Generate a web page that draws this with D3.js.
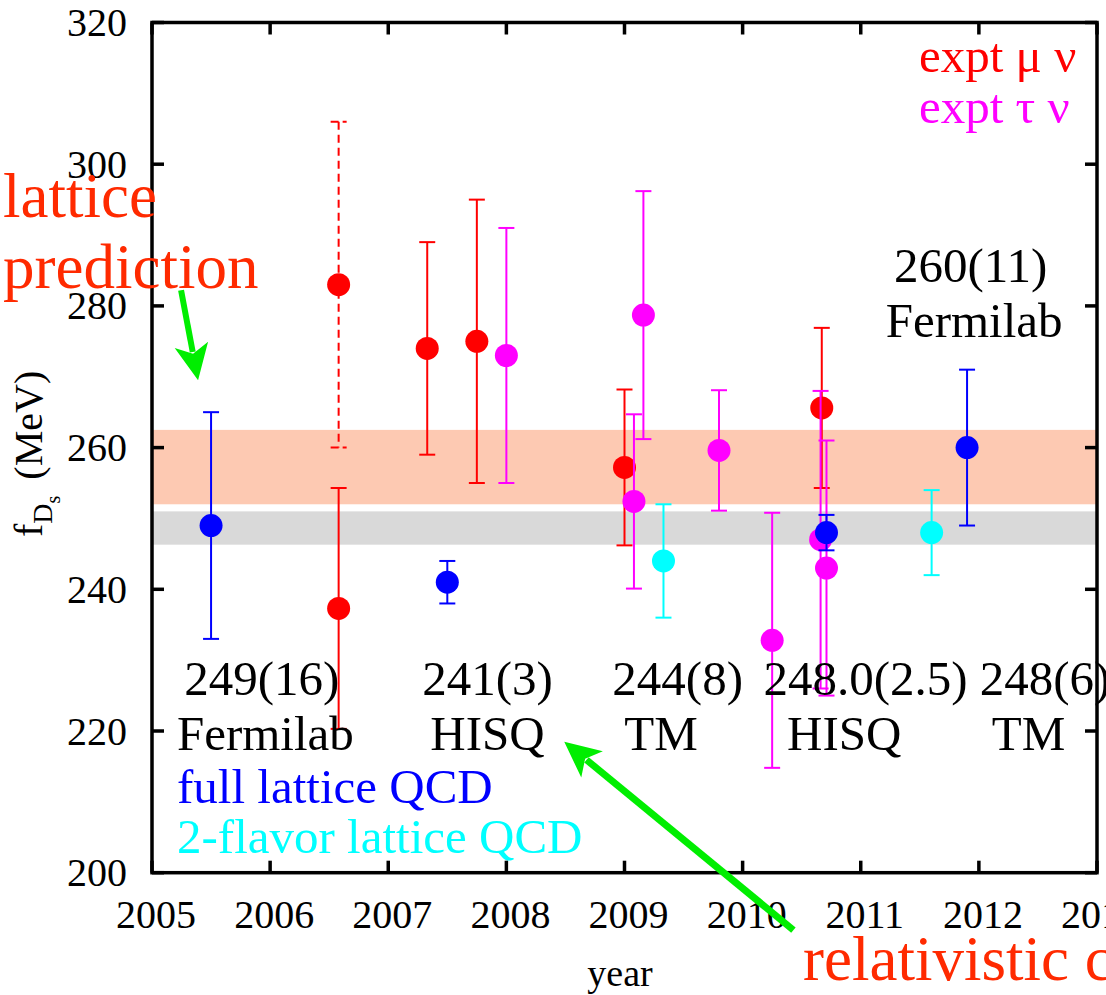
<!DOCTYPE html>
<html>
<head>
<meta charset="utf-8">
<script src="https://cdn.jsdelivr.net/npm/d3@7"></script>
<style>
  body { margin: 0; background: #fff; }
  svg { display: block; }
  svg text { font-family: "Liberation Serif", "Times New Roman", "DejaVu Serif", serif; }
</style>
</head>
<body>
<div id="canvas"></div>
<script>
"use strict"

/* Canvas size */
let svgWidth = 1106;
let svgHeight = 995;

/* Plot frame */
let leftMargin = 152
let rightEdge = 1097
let topMargin = 22.5
let bottomEdge = 872.7

/* Axis ticks */
let yearTicks = [2005, 2006, 2007, 2008, 2009, 2010, 2011, 2012, 2013];
let valueTicks = [200, 220, 240, 260, 280, 300, 320];

/* Bands: lattice prediction (orange) and current lattice average (gray) */
let predictionBand = [252.0, 262.5];
let latticeBand = [246.3, 251.0];

/* Full lattice QCD (blue) */
let fullYear = [2005.5, 2007.5, 2010.71, 2011.9];
let fullValue = [249, 241, 248, 260];
let fullError = [16, 3, 2.5, 11];

/* 2-flavor lattice QCD (cyan) */
let twoFlavorYear = [2009.33, 2011.6];
let twoFlavorValue = [244, 248];
let twoFlavorError = [8, 6];

/* Experiment, mu nu (red) */
let muYear = [2006.58, 2007.33, 2007.75, 2009.0, 2010.67];
let muValue = [237.3, 274, 275, 257.2, 265.6];
let muError = [17, 15, 20, 11, 11.3];

/* Older mu nu result, dashed error bar */
let muOldYear = [2006.58];
let muOldValue = [283];
let muOldError = [23];

/* Experiment, tau nu (magenta) */
let tauYear = [2008.0, 2009.08, 2009.16, 2009.8, 2010.25, 2010.66, 2010.71];
let tauValue = [273, 252.4, 278.7, 259.6, 232.8, 247, 243];
let tauError = [18, 12.3, 17.5, 8.5, 18, 21, 18];

/* Lattice result labels */
let resultValues = ["249(16)", "241(3)", "244(8)", "248.0(2.5)", "248(6)", "260(11)"];
let resultMethods = ["Fermilab", "HISQ", "TM", "HISQ", "TM", "Fermilab"];

let svg = d3.select("#canvas")
    .append("svg")
    .attr("width", svgWidth)
    .attr("height", svgHeight);

let xScale = d3.scaleLinear()
    .domain([2005, 2013])
    .range([leftMargin, rightEdge]);

let yScale = d3.scaleLinear()
    .domain([200, 320])
    .range([bottomEdge, topMargin]);

/* Bands */
svg.append("rect")
    .attr("x", xScale(2005))
    .attr("width", xScale(2013) - xScale(2005))
    .attr("y", yScale(predictionBand[1]))
    .attr("height", yScale(predictionBand[0]) - yScale(predictionBand[1]))
    .attr("fill", "#fdc9b2");

svg.append("rect")
    .attr("x", xScale(2005))
    .attr("width", xScale(2013) - xScale(2005))
    .attr("y", yScale(latticeBand[1]))
    .attr("height", yScale(latticeBand[0]) - yScale(latticeBand[1]))
    .attr("fill", "#d9d9d9");

/* Points with error bars */
function drawSeries(years, values, errors, colour, dashed) {
    let data = years.map(function (y, i) {
        return { year: y, value: values[i], error: errors[i] };
    });
    let g = svg.append("g")
        .attr("stroke", colour)
        .attr("fill", colour)
        .attr("stroke-width", 2);
    let dash = dashed ? "8,5" : null;
    let cap = 8;

    g.selectAll(".bar").data(data).join("line")
        .attr("x1", d => xScale(d.year))
        .attr("x2", d => xScale(d.year))
        .attr("y1", d => yScale(d.value + d.error))
        .attr("y2", d => yScale(d.value - d.error))
        .attr("stroke-dasharray", dash);

    g.selectAll(".top").data(data).join("line")
        .attr("x1", d => xScale(d.year) - cap)
        .attr("x2", d => xScale(d.year) + cap)
        .attr("y1", d => yScale(d.value + d.error))
        .attr("y2", d => yScale(d.value + d.error))
        .attr("stroke-dasharray", dashed ? "8,4" : null);

    g.selectAll(".bottom").data(data).join("line")
        .attr("x1", d => xScale(d.year) - cap)
        .attr("x2", d => xScale(d.year) + cap)
        .attr("y1", d => yScale(d.value - d.error))
        .attr("y2", d => yScale(d.value - d.error))
        .attr("stroke-dasharray", dashed ? "8,4" : null);

    g.selectAll("circle").data(data).join("circle")
        .attr("cx", d => xScale(d.year))
        .attr("cy", d => yScale(d.value))
        .attr("r", 11.5)
        .attr("stroke", "none");
}

drawSeries(muOldYear, muOldValue, muOldError, "#ff0000", true);
drawSeries(muYear, muValue, muError, "#ff0000", false);
drawSeries(tauYear, tauValue, tauError, "#ff00ff", false);
drawSeries(fullYear, fullValue, fullError, "#0000ff", false);
drawSeries(twoFlavorYear, twoFlavorValue, twoFlavorError, "#00ffff", false);

/* Lattice result labels (value on top line, method below) */
let valueLabelYear = [2005.93, 2007.84, 2009.45, 2011.04, 2012.56, 2011.93];
let valueLabelY = [695, 695, 695, 695, 695, 282];
let methodLabelYear = [2005.96, 2007.84, 2009.31, 2010.86, 2012.42, 2011.96];
let methodLabelY = [750, 750, 750, 750, 750, 337];

resultValues.forEach(function (t, i) {
    svg.append("text")
        .attr("x", xScale(valueLabelYear[i]))
        .attr("y", valueLabelY[i])
        .attr("text-anchor", "middle")
        .attr("font-size", 49)
        .text(t);
    svg.append("text")
        .attr("x", xScale(methodLabelYear[i]))
        .attr("y", methodLabelY[i])
        .attr("text-anchor", "middle")
        .attr("font-size", 49)
        .text(resultMethods[i]);
});

/* Legend texts */
svg.append("text").attr("x", 919).attr("y", 72).attr("font-size", 49)
    .attr("fill", "#ff0000").text("expt \u03bc \u03bd");
svg.append("text").attr("x", 919).attr("y", 123).attr("font-size", 49)
    .attr("fill", "#ff00ff").text("expt \u03c4 \u03bd");
svg.append("text").attr("x", 177).attr("y", 803).attr("font-size", 49)
    .attr("fill", "#0000ff").text("full lattice QCD");
svg.append("text").attr("x", 177).attr("y", 853).attr("font-size", 49)
    .attr("fill", "#00ffff").text("2-flavor lattice QCD");

/* Frame with ticks on all four sides */
let tickLen = 12;
let frame = svg.append("g").attr("stroke", "#000").attr("stroke-width", 3.5);

frame.append("rect")
    .attr("x", leftMargin)
    .attr("y", topMargin)
    .attr("width", rightEdge - leftMargin)
    .attr("height", bottomEdge - topMargin)
    .attr("fill", "none");

yearTicks.forEach(function (yr) {
    frame.append("line")
        .attr("x1", xScale(yr)).attr("x2", xScale(yr))
        .attr("y1", bottomEdge).attr("y2", bottomEdge - tickLen);
    frame.append("line")
        .attr("x1", xScale(yr)).attr("x2", xScale(yr))
        .attr("y1", topMargin).attr("y2", topMargin + tickLen);
    svg.append("text")
        .attr("x", xScale(yr) + 4)
        .attr("y", 928)
        .attr("text-anchor", "middle")
        .attr("font-size", 40)
        .text(yr);
});

valueTicks.forEach(function (v) {
    frame.append("line")
        .attr("x1", leftMargin).attr("x2", leftMargin + tickLen)
        .attr("y1", yScale(v)).attr("y2", yScale(v));
    frame.append("line")
        .attr("x1", rightEdge).attr("x2", rightEdge - tickLen)
        .attr("y1", yScale(v)).attr("y2", yScale(v));
    svg.append("text")
        .attr("x", 127)
        .attr("y", yScale(v) + 13.5)
        .attr("text-anchor", "end")
        .attr("font-size", 40)
        .text(v);
});

/* Axis titles */
svg.append("text")
    .attr("x", 620)
    .attr("y", 986)
    .attr("text-anchor", "middle")
    .attr("font-size", 38)
    .text("year");

let yTitle = svg.append("text")
    .attr("transform", "rotate(-90)")
    .attr("x", -537)
    .attr("y", 42);
yTitle.append("tspan").attr("font-size", 40).text("f");
yTitle.append("tspan").attr("font-size", 28).attr("dy", 10).text("D");
yTitle.append("tspan").attr("font-size", 20).attr("dy", 8).text("s");
yTitle.append("tspan").attr("font-size", 40).attr("dy", -18).attr("dx", 16).text("(MeV)");

/* Annotations with green arrows */
svg.append("text").attr("x", 3).attr("y", 217).attr("font-size", 63)
    .attr("fill", "#ff2a00").text("lattice");
svg.append("text").attr("x", 3).attr("y", 288).attr("font-size", 63)
    .attr("fill", "#ff2a00").text("prediction");
svg.append("text").attr("x", 803).attr("y", 980).attr("font-size", 63)
    .attr("fill", "#ff2a00").text("relativistic c");

function arrow(fromYear, fromValue, toYear, toValue, width) {
    let x1 = xScale(fromYear), y1 = yScale(fromValue);
    let x2 = xScale(toYear), y2 = yScale(toValue);
    let len = Math.hypot(x2 - x1, y2 - y1);
    let ux = (x2 - x1) / len, uy = (y2 - y1) / len;
    let headLen = 36, headHalf = 17;
    let bx = x2 - ux * headLen, by = y2 - uy * headLen;
    svg.append("line")
        .attr("x1", x1).attr("y1", y1)
        .attr("x2", x2 - ux * headLen * 0.8).attr("y2", y2 - uy * headLen * 0.8)
        .attr("stroke", "#00ee00")
        .attr("stroke-width", width);
    svg.append("polygon")
        .attr("points", [
            [x2, y2],
            [bx - uy * headHalf, by + ux * headHalf],
            [x2 - ux * headLen * 0.75, y2 - uy * headLen * 0.75],
            [bx + uy * headHalf, by - ux * headHalf]
        ].map(p => p.join(",")).join(" "))
        .attr("fill", "#00ee00");
}

arrow(2005.246, 282.2, 2005.39, 269.5, 6);
arrow(2010.43, 191.9, 2008.49, 218.5, 7);
</script>
</body>
</html>
